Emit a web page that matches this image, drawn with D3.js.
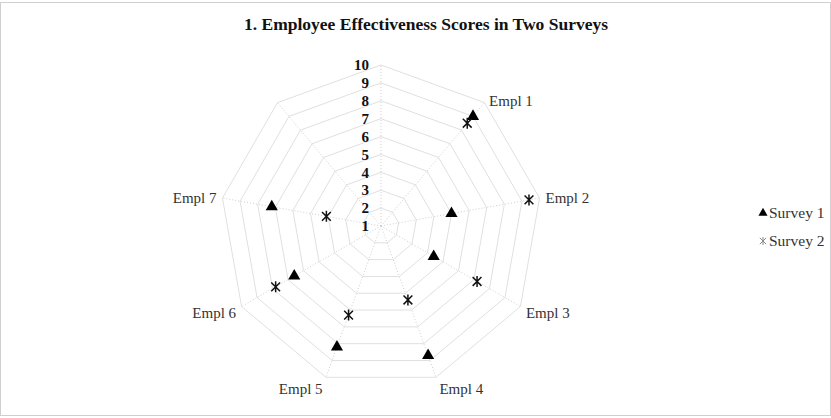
<!DOCTYPE html>
<html>
<head>
<meta charset="utf-8">
<script src="https://cdn.jsdelivr.net/npm/d3@7"></script>
<style>
  body { margin: 0; background: #fff; }
  svg text { font-family: "Liberation Serif", "Times New Roman", serif; fill: #333; }
</style>
</head>
<body>
<div id="chart"></div>
<script>
// categories around the radar (first and last spokes carry no label)
const categories = ["", "Empl 1", "Empl 2", "Empl 3", "Empl 4", "Empl 5", "Empl 6", "Empl 7", ""];
const survey1 = [null, 9.0, 5.0, 4.4, 8.7, 8.2, 6.6, 7.2, null];
const survey2 = [null, 8.5, 9.4, 7.2, 5.4, 6.3, 7.8, 4.1, null];
const tickValues = [1, 2, 3, 4, 5, 6, 7, 8, 9, 10];
const seriesNames = ["Survey 1", "Survey 2"];

const width = 831, height = 418;
const cx = 381, cy = 226, R = 161;

const svg = d3.select("#chart").append("svg")
    .attr("width", width)
    .attr("height", height);

// chart frame
svg.append("rect")
    .attr("x", 0.5).attr("y", 2.5)
    .attr("width", width - 1).attr("height", 413)
    .attr("fill", "none")
    .attr("stroke", "#cfcfcf");

svg.append("text")
    .attr("x", 426).attr("y", 30)
    .attr("text-anchor", "middle")
    .style("font-size", "17.5px")
    .style("font-weight", "bold")
    .style("fill", "#111")
    .text("1. Employee Effectiveness Scores in Two Surveys");

const rScale = d3.scaleLinear().domain([1, 10]).range([0, R]);
const aScale = d3.scaleLinear().domain([0, categories.length]).range([0, 2 * Math.PI]);

const pt = (i, v) => {
    const a = aScale(i), r = rScale(v);
    return [cx + r * Math.sin(a), cy - r * Math.cos(a)];
};

const g = svg.append("g");

// rings
tickValues.slice(1).forEach(t => {
    const ring = categories.map((c, i) => pt(i, t));
    g.append("path")
        .attr("d", d3.line().curve(d3.curveLinearClosed)(ring))
        .attr("fill", "none")
        .attr("stroke", "#e0e0e0")
        .attr("stroke-width", 1);
});

// spokes
categories.forEach((c, i) => {
    const [x, y] = pt(i, 10);
    g.append("line")
        .attr("x1", cx).attr("y1", cy)
        .attr("x2", x).attr("y2", y)
        .attr("stroke", "#cfcfcf")
        .attr("stroke-dasharray", "1,2");
});

// value axis labels
g.selectAll(".tick-label")
    .data(tickValues)
    .enter().append("text")
    .attr("class", "tick-label")
    .attr("x", cx - 12)
    .attr("y", d => cy - rScale(d))
    .attr("dy", "0.35em")
    .attr("text-anchor", "end")
    .style("font-size", "15px")
    .style("font-weight", "bold")
    .style("fill", "#111")
    .text(d => d);

// category labels
categories.forEach((c, i) => {
    if (!c) return;
    const a = aScale(i);
    const [vx, vy] = pt(i, 10);
    const s = Math.sin(a), co = Math.cos(a);
    const x = vx + Math.sign(s) * (2 + 4 * Math.abs(s));
    const y = vy + (co < 0 ? -12.5 * co : -3 * co);
    g.append("text")
        .attr("x", x).attr("y", y)
        .attr("dy", "0.35em")
        .attr("text-anchor", s > 0 ? "start" : "end")
        .style("font-size", "15px")
        .text(c);
});

const triangle = d3.symbol().type(d3.symbolTriangle).size(64);
const star = (sz) => `M0,${-sz}V${sz}M${-sz * 0.8},${-sz * 0.8}L${sz * 0.8},${sz * 0.8}M${-sz * 0.8},${sz * 0.8}L${sz * 0.8},${-sz * 0.8}`;

// survey 1 markers
g.selectAll(".s1")
    .data(survey1.map((v, i) => ({v, i})).filter(d => d.v != null))
    .enter().append("path")
    .attr("class", "s1")
    .attr("d", triangle)
    .attr("transform", d => `translate(${pt(d.i, d.v)})`)
    .attr("fill", "#000");

// survey 2 markers
g.selectAll(".s2")
    .data(survey2.map((v, i) => ({v, i})).filter(d => d.v != null))
    .enter().append("path")
    .attr("class", "s2")
    .attr("d", star(5.5))
    .attr("transform", d => `translate(${pt(d.i, d.v)})`)
    .attr("fill", "none")
    .attr("stroke", "#111")
    .attr("stroke-width", 1.5);

// legend
const legend = svg.selectAll(".legend")
    .data(seriesNames)
    .enter().append("g")
    .attr("class", "legend")
    .attr("transform", (d, i) => `translate(763,${213 + i * 28})`);

legend.append("path")
    .attr("d", (d, i) => i === 0 ? d3.symbol().type(d3.symbolTriangle).size(36)() : star(4))
    .attr("fill", (d, i) => i === 0 ? "#000" : "none")
    .attr("stroke", (d, i) => i === 0 ? "none" : "#888")
    .attr("stroke-width", 1);

legend.append("text")
    .attr("x", 6)
    .attr("dy", "0.35em")
    .style("font-size", "15.5px")
    .text(d => d);
</script>
</body>
</html>
